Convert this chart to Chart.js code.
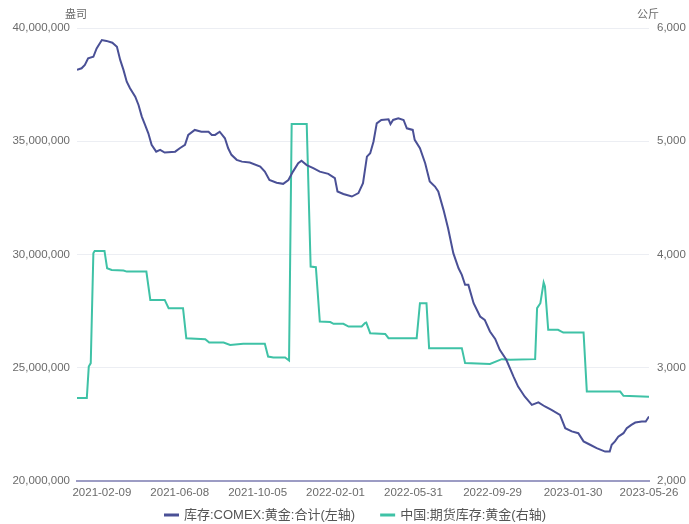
<!DOCTYPE html>
<html>
<head>
<meta charset="utf-8">
<script src="https://cdn.jsdelivr.net/npm/chart.js@4/dist/chart.umd.min.js"></script>
<style>
html,body{margin:0;padding:0;background:#fff;}
#wrap{width:689px;height:524px;}
</style>
</head>
<body>
<div id="wrap"><canvas id="c" width="689" height="524"></canvas></div>
<script>
// Day offsets are calendar days from 2021-02-09
const tickDays = [0, 119, 238, 357, 476, 597, 720, 836];
const tickLabels = ['2021-02-09','2021-06-08','2021-10-05','2022-02-01','2022-05-31','2022-09-29','2023-01-30','2023-05-26'];

const comexName = '库存:COMEX:黄金:合计(左轴)';
const comexDays = [-38,-31,-26,-21,-13,-8,0,7,16,23,28,33,38,43,51,56,61,66,71,76,83,89,96,112,119,127,132,142,152,163,168,173,180,188,193,198,206,214,226,242,249,256,267,277,285,292,300,305,313,323,333,346,356,360,369,382,392,399,405,410,415,420,427,438,441,445,453,461,466,475,478,486,494,501,509,514,522,529,537,545,550,555,560,568,578,585,593,601,608,618,629,636,646,657,667,677,687,700,708,718,728,736,746,756,769,776,779,784,789,797,802,809,815,825,831,836];
const comexOz = [38150000,38220000,38370000,38660000,38730000,39100000,39470000,39430000,39350000,39170000,38590000,38150000,37630000,37340000,36970000,36600000,36090000,35720000,35350000,34840000,34540000,34620000,34500000,34540000,34690000,34840000,35280000,35500000,35420000,35420000,35280000,35280000,35420000,35130000,34690000,34400000,34180000,34100000,34060000,33880000,33660000,33290000,33170000,33120000,33290000,33660000,34030000,34140000,33950000,33810000,33660000,33560000,33370000,32780000,32670000,32560000,32710000,33150000,34320000,34470000,34980000,35790000,35940000,35970000,35760000,35940000,36010000,35940000,35570000,35500000,35060000,34690000,34030000,33220000,33000000,32780000,31970000,31160000,30060000,29390000,29100000,28660000,28660000,27850000,27260000,27110000,26600000,26270000,25790000,25350000,24610000,24170000,23730000,23360000,23470000,23290000,23140000,22920000,22330000,22190000,22110000,21750000,21600000,21450000,21300000,21300000,21600000,21750000,21960000,22110000,22330000,22480000,22580000,22630000,22630000,22850000];

const shfeName = '中国:期货库存:黄金(右轴)';
const shfeDays = [-38,-23,-20,-17,-13,-11,4,8,15,33,38,68,74,96,102,124,129,158,164,186,196,216,249,254,262,280,286,290,313,319,327,333,349,354,369,377,397,402,404,410,433,438,481,486,496,500,550,555,593,611,624,662,665,670,675,677,682,697,705,736,741,792,797,836];
const shfeKg = [2732,2732,3011,3041,4011,4032,4032,3879,3864,3858,3849,3849,3599,3599,3526,3526,3261,3252,3222,3222,3202,3211,3211,3099,3090,3090,3064,5153,5153,3893,3888,3408,3403,3388,3388,3364,3364,3394,3399,3305,3299,3261,3261,3570,3570,3173,3173,3041,3034,3076,3070,3076,3526,3570,3752,3717,3335,3335,3311,3311,2790,2790,2752,2743];

const leftUnit = '盎司';
const rightUnit = '公斤';

const BLUE = '#4a5096';
const GREEN = '#3fc2a6';
const TXT = '#6b6b6b';
const FONT = '"Liberation Sans", Arial, "Noto Sans CJK SC", sans-serif';

const unitPlugin = {
  id: 'units',
  afterDraw(chart) {
    const ctx = chart.ctx;
    const ca = chart.chartArea;
    ctx.save();
    ctx.fillStyle = TXT;
    ctx.font = '11px "Noto Sans CJK SC", sans-serif';
    ctx.textAlign = 'center';
    ctx.textBaseline = 'middle';
    ctx.fillText(leftUnit, ca.left - 1, 14);
    ctx.fillText(rightUnit, ca.right - 1, 14);
    ctx.restore();
  }
};

const legendPlugin = {
  id: 'customLegend',
  afterDraw(chart) {
    const ctx = chart.ctx;
    ctx.save();
    ctx.font = '13px ' + FONT;
    ctx.textBaseline = 'middle';
    ctx.textAlign = 'left';
    const y = 515;
    const items = chart.data.datasets.map(d => ({t: d.label, c: d.borderColor}));
    const gap = 25, mark = 15, mgap = 5;
    let total = 0;
    items.forEach((it, i) => { total += mark + mgap + ctx.measureText(it.t).width + (i ? gap : 0); });
    let x = 355 - total / 2;
    items.forEach(it => {
      ctx.strokeStyle = it.c;
      ctx.lineWidth = 3;
      ctx.beginPath();
      ctx.moveTo(x, y);
      ctx.lineTo(x + mark, y);
      ctx.stroke();
      x += mark + mgap;
      ctx.fillStyle = '#555';
      ctx.fillText(it.t, x, y);
      x += ctx.measureText(it.t).width + gap;
    });
    ctx.restore();
  }
};

new Chart(document.getElementById('c'), {
  type: 'line',
  data: {
    datasets: [
      {
        label: comexName,
        data: comexDays.map((d, i) => ({x: d, y: comexOz[i]})),
        borderColor: BLUE,
        backgroundColor: BLUE,
        borderWidth: 2,
        pointRadius: 0,
        tension: 0,
        yAxisID: 'yL'
      },
      {
        label: shfeName,
        data: shfeDays.map((d, i) => ({x: d, y: shfeKg[i]})),
        borderColor: GREEN,
        backgroundColor: GREEN,
        borderWidth: 2,
        pointRadius: 0,
        tension: 0,
        yAxisID: 'yR'
      }
    ]
  },
  options: {
    responsive: false,
    animation: false,
    devicePixelRatio: 1,
    layout: {padding: {left: 0, right: 0, top: 28, bottom: 23}},
    plugins: {legend: {display: false}, tooltip: {enabled: false}},
    scales: {
      x: {
        type: 'linear',
        min: comexDays[0],
        max: comexDays[comexDays.length - 1],
        afterBuildTicks: s => { s.ticks = tickDays.map(v => ({value: v})); },
        afterFit: s => { s.height = 20; },
        grid: {display: false, drawTicks: false},
        border: {display: true, color: '#9c9cc4', width: 2},
        ticks: {
          autoSkip: false, maxRotation: 0, minRotation: 0, padding: 5,
          color: TXT, font: {family: FONT, size: 11.5},
          callback: (v, i) => tickLabels[i]
        }
      },
      yL: {
        position: 'left',
        min: 20000000, max: 40000000,
        afterFit: s => { s.width = 77; },
        grid: {color: '#eceef3', lineWidth: 1, drawTicks: false},
        border: {display: false},
        ticks: {
          stepSize: 5000000, padding: 7, color: TXT,
          font: {family: FONT, size: 11.5},
          callback: v => v.toLocaleString('en-US')
        }
      },
      yR: {
        position: 'right',
        min: 2000, max: 6000,
        afterFit: s => { s.width = 40; },
        grid: {display: false, drawTicks: false},
        border: {display: false},
        ticks: {
          stepSize: 1000, padding: 8, color: TXT,
          font: {family: FONT, size: 11.5},
          callback: v => v.toLocaleString('en-US')
        }
      }
    }
  },
  plugins: [unitPlugin, legendPlugin]
});
</script>
</body>
</html>
